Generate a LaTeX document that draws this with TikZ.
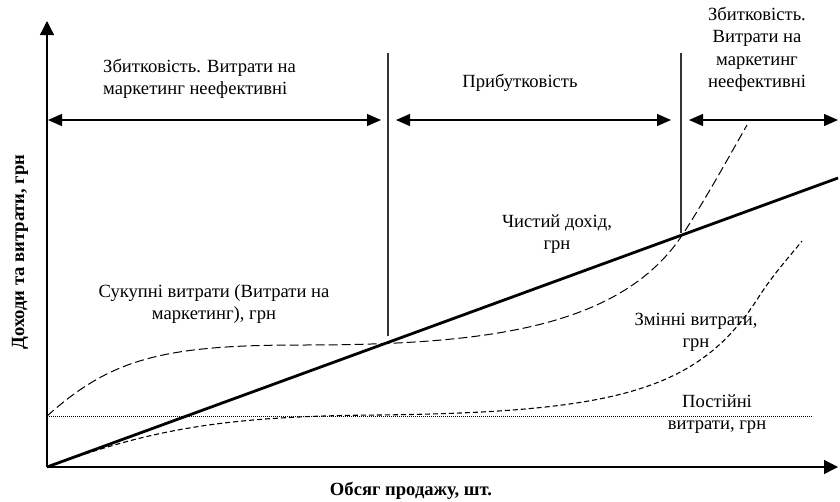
\documentclass[tikz,border=0pt]{standalone}
\usepackage{fontspec}
\setmainfont{Liberation Serif}
\usetikzlibrary{arrows.meta}
\begin{document}
\begin{tikzpicture}[x=1pt,y=-1pt,
  lbl/.style={font=\fontsize{18.6}{22.5}\selectfont, inner sep=0pt, align=center, anchor=base},
  axtitle/.style={font=\fontsize{18.6}{22.5}\selectfont\bfseries, inner sep=0pt},
  axis/.style={line width=1.3pt, -{Triangle[length=14pt,width=14pt]}},
  span/.style={line width=1.2pt, {Triangle[length=14pt,width=12pt]}-{Triangle[length=14pt,width=12pt]}},
  divider/.style={line width=1.2pt, draw=black!80},
  revenue/.style={line width=2.8pt},
  totalcost/.style={line width=1pt, dash pattern=on 9pt off 4pt},
  varcost/.style={line width=1.1pt, dash pattern=on 5pt off 3pt},
  fixcost/.style={line width=0.8pt, dash pattern=on 0.8pt off 1.2pt}]
\useasboundingbox (0,0) rectangle (840,501);
% axes
\coordinate (O) at (47,467);
\coordinate (Ytop) at (47,21);
\coordinate (Xend) at (838,467);
\draw[axis] (O) -- (Ytop);
\draw[axis] (O) -- (Xend);
% spans
\coordinate (s1a) at (48,120);  \coordinate (s1b) at (381,120);
\coordinate (s2a) at (396,120); \coordinate (s2b) at (671,120);
\coordinate (s3a) at (689,120); \coordinate (s3b) at (838,120);
\draw[span] (s1a) -- (s1b);
\draw[span] (s2a) -- (s2b);
\draw[span] (s3a) -- (s3b);
% dividers
\coordinate (d1t) at (388,53); \coordinate (d1b) at (388,336);
\coordinate (d2t) at (681,53); \coordinate (d2b) at (681,233);
\draw[divider] (d1t) -- (d1b);
\draw[divider] (d2t) -- (d2b);
% fixed costs
\coordinate (F0) at (47,416); \coordinate (F1) at (813,416);
\draw[fixcost] (F0) -- (F1);
% variable costs
\draw[varcost] (O) .. controls (150,430) and (220,416) .. (380,415)
  .. controls (620,412) and (700,390) .. (760,295)
  .. controls (775,272) and (790,256) .. (802,241);
% total costs
\draw[totalcost] (F0) .. controls (110,360) and (160,345) .. (300,345)
  .. controls (480,345) and (620,330) .. (683,234)
  .. controls (705,200) and (730,155) .. (747,125);
% revenue
\coordinate (R1) at (838,178);
\draw[revenue] (O) -- (R1);
% labels (base anchor = baseline of last line)
\node[lbl, anchor=base west, align=left] (loss1) at (103,94.5) {Збитковість. Витрати на\\маркетинг неефективні};
\node[lbl] (profit) at (520,87) {Прибутковість};
\node[lbl] (loss2) at (757,87.5) {Збитковість.\\Витрати на\\маркетинг\\неефективні};
\node[lbl] (tc) at (214,319.5) {Сукупні витрати (Витрати на\\маркетинг), грн};
\node[lbl] (rev) at (557,249.5) {Чистий дохід,\\грн};
\node[lbl] (vc) at (696,347.5) {Змінні витрати,\\грн};
\node[lbl] (fc) at (717,429.5) {Постійні\\витрати, грн};
\node[axtitle, anchor=base] (xt) at (411,495) {Обсяг продажу, шт.};
\node[axtitle, rotate=90] (yt) at (20,252) {Доходи та витрати, грн};
\end{tikzpicture}
\end{document}
